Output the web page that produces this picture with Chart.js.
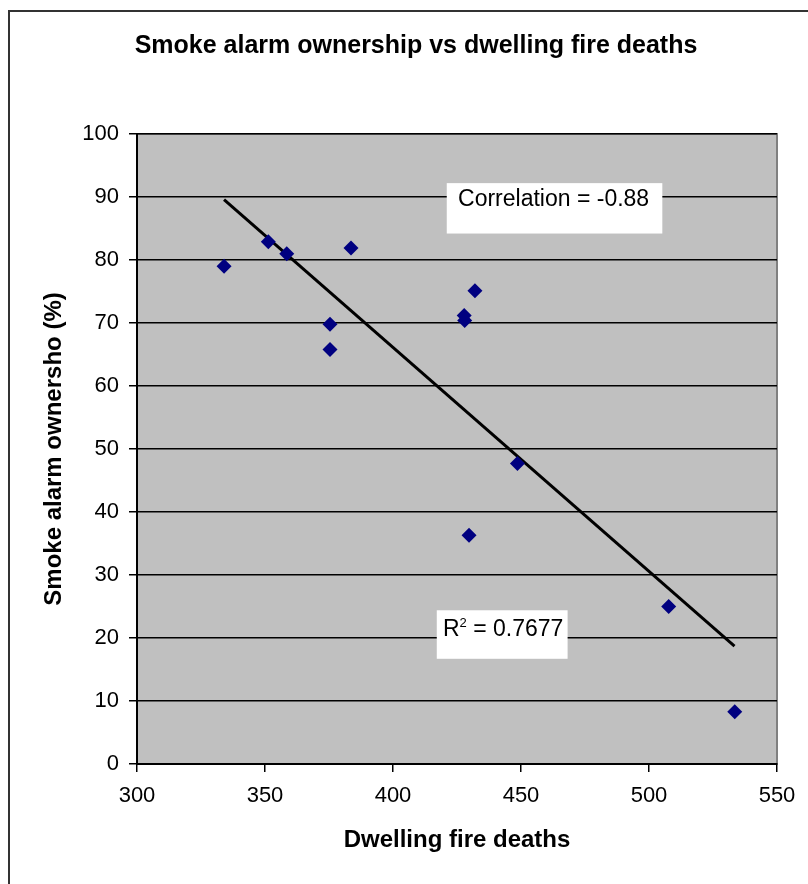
<!DOCTYPE html>
<html>
<head>
<meta charset="utf-8">
<script src="https://cdn.jsdelivr.net/npm/chart.js@4.4.1/dist/chart.umd.min.js"></script>
<style>
  html, body { margin: 0; padding: 0; background: #fff; }
  #wrap { position: relative; width: 808px; height: 884px; }
</style>
</head>
<body>
<div id="wrap"><canvas id="smokeChart" width="808" height="884"></canvas></div>
<script>
// Data
const deaths = [334, 351.3, 358.5, 383.6, 375.4, 375.4, 432, 427.8, 428, 429.7, 448.6, 507.7, 533.5];
const ownership = [79, 82.9, 81, 81.9, 69.8, 65.8, 75.1, 71.2, 70.4, 36.3, 47.7, 25, 8.3];
const trendX = [334, 533.4];
const trendY = [89.6, 18.7];
const xTicks = [300, 350, 400, 450, 500, 550];
const yTicks = [0, 10, 20, 30, 40, 50, 60, 70, 80, 90, 100];

const points = deaths.map((d, i) => ({ x: d, y: ownership[i] }));
const trend = trendX.map((d, i) => ({ x: d, y: trendY[i] }));

const FONT = "'Liberation Sans', Arial, sans-serif";

// grey plot area + outer frame, title and the two label boxes
const backdrop = {
    id: 'backdrop',
    beforeDraw(chart) {
        const { ctx, chartArea: a } = chart;
        ctx.save();
        ctx.fillStyle = '#fff';
        ctx.fillRect(0, 0, chart.width, chart.height);
        ctx.strokeStyle = '#333';
        ctx.lineWidth = 2;
        ctx.beginPath();
        ctx.moveTo(9, chart.height + 5);
        ctx.lineTo(9, 11);
        ctx.lineTo(chart.width + 5, 11);
        ctx.stroke();
        ctx.fillStyle = '#c0c0c0';
        ctx.fillRect(a.left, a.top, a.right - a.left, a.bottom - a.top);
        ctx.strokeStyle = '#808080';
        ctx.lineWidth = 2;
        ctx.strokeRect(a.left, a.top, a.right - a.left, a.bottom - a.top);
        ctx.restore();
    },
    afterDraw(chart) {
        const { ctx, scales: { x, y } } = chart;
        ctx.save();
        ctx.fillStyle = '#000';
        ctx.font = 'bold 25px ' + FONT;
        ctx.textAlign = 'center';
        ctx.textBaseline = 'middle';
        ctx.fillText('Smoke alarm ownership vs dwelling fire deaths', 416, 46);

        ctx.textAlign = 'left';
        ctx.font = '23px ' + FONT;
        // correlation
        let x1 = x.getPixelForValue(421), x2 = x.getPixelForValue(505.2);
        let y1 = y.getPixelForValue(92.2), y2 = y.getPixelForValue(84.2);
        ctx.fillStyle = '#fff';
        ctx.fillRect(x1, y1, x2 - x1, y2 - y1);
        ctx.fillStyle = '#000';
        ctx.fillText('Correlation = -0.88', x.getPixelForValue(425.4), y.getPixelForValue(89.5));
        // R squared
        x1 = x.getPixelForValue(417.1); x2 = x.getPixelForValue(468.2);
        y1 = y.getPixelForValue(24.4); y2 = y.getPixelForValue(16.7);
        ctx.fillStyle = '#fff';
        ctx.fillRect(x1, y1, x2 - x1, y2 - y1);
        ctx.fillStyle = '#000';
        let tx = x.getPixelForValue(419.5), ty = y.getPixelForValue(21.4);
        ctx.fillText('R', tx, ty);
        tx += ctx.measureText('R').width;
        ctx.font = '13px ' + FONT;
        ctx.fillText('2', tx, ty - 6);
        tx += ctx.measureText('2').width;
        ctx.font = '23px ' + FONT;
        ctx.fillText(' = 0.7677', tx, ty);
        ctx.restore();
    }
};

new Chart(document.getElementById('smokeChart').getContext('2d'), {
    type: 'scatter',
    data: {
        datasets: [
            {
                label: 'Trend',
                type: 'line',
                data: trend,
                borderColor: '#000',
                borderWidth: 3,
                pointRadius: 0,
                fill: false,
                order: 2
            },
            {
                label: 'Ownership',
                data: points,
                pointStyle: 'rectRot',
                pointRadius: 7.5,
                pointBackgroundColor: '#000080',
                pointBorderColor: '#000080',
                pointBorderWidth: 0,
                order: 1
            }
        ]
    },
    options: {
        responsive: false,
        animation: false,
        layout: { padding: { left: 0, top: 134, right: 31, bottom: 0 } },
        plugins: { legend: { display: false }, tooltip: { enabled: false } },
        scales: {
            x: {
                type: 'linear',
                min: 300, max: 550,
                afterBuildTicks: s => { s.ticks = xTicks.map(v => ({ value: v })); },
                afterFit: s => { s.height = 120; },
                ticks: { color: '#000', font: { family: FONT, size: 22 }, padding: 11, maxRotation: 0 },
                grid: { drawOnChartArea: false, drawTicks: true, tickLength: 8, color: '#000', lineWidth: 1.5 },
                border: { color: '#000', width: 2 },
                title: {
                    display: true, text: 'Dwelling fire deaths', color: '#000',
                    font: { family: FONT, size: 24, weight: 'bold' }, padding: 29
                }
            },
            y: {
                type: 'linear',
                min: 0, max: 100,
                afterBuildTicks: s => { s.ticks = yTicks.map(v => ({ value: v })); },
                afterFit: s => { s.width = 137; },
                ticks: { color: '#000', font: { family: FONT, size: 22 }, padding: 10 },
                grid: { color: '#000', lineWidth: 1.5, drawTicks: true, tickLength: 8 },
                border: { color: '#000', width: 2 },
                title: {
                    display: true, text: 'Smoke alarm ownersho (%)', color: '#000',
                    font: { family: FONT, size: 24, weight: 'bold' }, padding: 40
                }
            }
        }
    },
    plugins: [backdrop]
});
</script>
</body>
</html>
